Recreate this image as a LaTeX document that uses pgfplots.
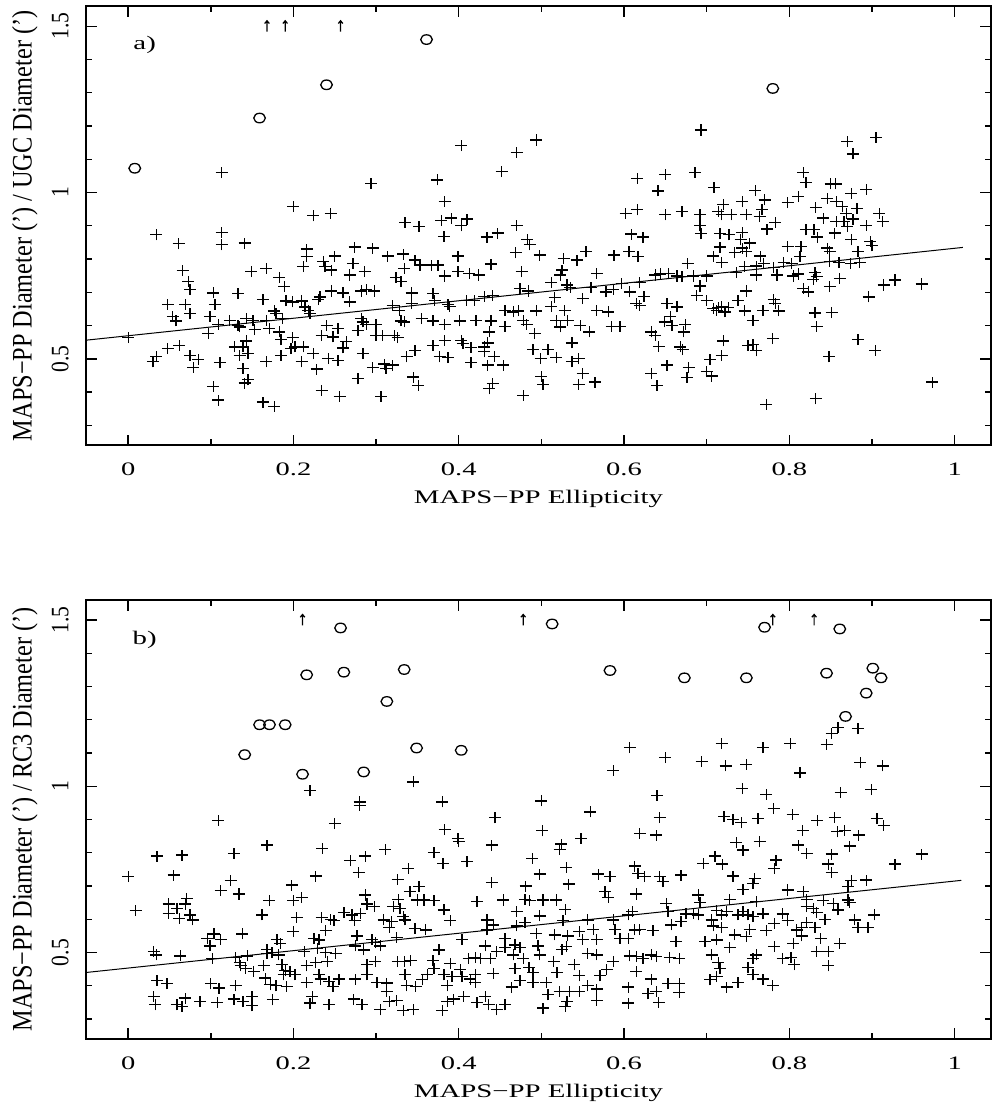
\documentclass[border=0pt]{standalone}
\usepackage{fontspec}
\setmainfont{Liberation Serif}
\usepackage{pgfplots}
\pgfplotsset{compat=1.18}

% plus sign, very slightly wider than tall
\pgfdeclareplotmark{wplus}{%
  \pgfpathmoveto{\pgfqpoint{-\pgfplotmarksize}{0pt}}%
  \pgfpathlineto{\pgfqpoint{\pgfplotmarksize}{0pt}}%
  \pgfpathmoveto{\pgfqpoint{0pt}{-0.92\pgfplotmarksize}}%
  \pgfpathlineto{\pgfqpoint{0pt}{0.92\pgfplotmarksize}}%
  \pgfusepathqstroke}
% open oval
\pgfdeclareplotmark{oval}{%
  \pgfpathellipse{\pgfpointorigin}{\pgfqpoint{\pgfplotmarksize}{0pt}}{\pgfqpoint{0pt}{0.82\pgfplotmarksize}}%
  \pgfusepathqstroke}
% upward arrow for lower limits off the top of the plot
\pgfdeclareplotmark{uparr}{%
  \pgfpathmoveto{\pgfqpoint{0pt}{-\pgfplotmarksize}}%
  \pgfpathlineto{\pgfqpoint{0pt}{\pgfplotmarksize}}%
  \pgfpathmoveto{\pgfqpoint{-0.42\pgfplotmarksize}{0.5\pgfplotmarksize}}%
  \pgfpathlineto{\pgfqpoint{0pt}{\pgfplotmarksize}}%
  \pgfpathlineto{\pgfqpoint{0.42\pgfplotmarksize}{0.5\pgfplotmarksize}}%
  \pgfusepathqstroke}

\pgfplotsset{
  panel/.style={
    scale only axis, width=452.5pt, height=219.5pt,
    xmin=-0.051, xmax=1.044, ymin=0.24, ymax=1.56,
    xtick={0,0.2,0.4,0.6,0.8,1}, minor xtick={0.1,0.3,0.5,0.7,0.9},
    ytick={0.5,1,1.5}, minor ytick={0.3,0.4,0.6,0.7,0.8,0.9,1.1,1.2,1.3,1.4},
    tick align=inside, tick pos=both,
    major tick length=5.3pt, minor tick length=3pt,
    tick style={black, line width=0.7pt},
    axis line style={line width=1pt},
    /pgf/number format/assume math mode=true,
    every axis x label/.style={at={(axis description cs:0.5,0)}, anchor=base,
      yshift=-29.2pt, xscale=1.5, font=\fontsize{9.6}{11}\selectfont},
    every axis y label/.style={at={(axis description cs:0,0.5)}, anchor=base,
      xshift=-27.2pt, xscale=1.32, rotate=90, xscale=1.135, font=\fontsize{10.7}{12}\selectfont},
    xticklabel style={anchor=base, yshift=-15.3pt, xscale=1.5, font=\fontsize{9.5}{11}\selectfont},
    yticklabel style={anchor=base, xshift=-8.85pt, xscale=1.32, rotate=90, xscale=1.135, font=\fontsize{9.5}{11}\selectfont},
    xlabel={MAPS−PP Ellipticity},
  },
  pts/.style={only marks, mark=wplus, mark size=3pt, mark options={line width=0.65pt, black}},
  ovals/.style={only marks, mark=oval, mark size=2.9pt, mark options={line width=0.65pt, black}},
  arrs/.style={only marks, mark=uparr, mark size=2.75pt, mark options={line width=0.6pt, black}},
  fit/.style={no marks, black, line width=0.5pt},
}

\begin{document}
\begin{tikzpicture}
\useasboundingbox (-43pt,-330.35pt) rectangle (452.5pt,222.65pt);

% ---------------- a) MAPS-PP vs UGC ----------------
\begin{axis}[panel, at={(0pt,0pt)}, ylabel={MAPS−PP Diameter (') / UGC Diameter (')}]
\addplot[pts] coordinates {
(0.066,0.765)(0.073,0.732)(0.075,0.709)(0.149,0.762)(0.167,0.772)(0.183,0.745)(0.189,0.717)
(0.048,0.664)(0.054,0.628)(0.058,0.614)(0.069,0.664)(0.075,0.636)(0.103,0.698)(0.105,0.664)(0.099,0.628)(0.109,0.604)(0.133,0.696)(0.097,0.576)(0.123,0.616)(0.133,0.601)(0.135,0.596)(0.143,0.621)(0.151,0.616)(0.153,0.588)(0.163,0.678)(0.167,0.616)(0.171,0.591)(0.177,0.644)(0.179,0.636)(0.183,0.581)(0.187,0.621)(0.191,0.674)(0.199,0.671)(0.210,0.674)(0.214,0.656)(0.218,0.646)(0.220,0.636)(0.230,0.678)(0.232,0.686)(0.246,0.704)(0.260,0.698)(0.268,0.671)(0.282,0.704)(0.288,0.709)(0.298,0.704)
(0.282,0.621)(0.284,0.611)(0.288,0.604)(0.300,0.604)(0.278,0.586)(0.240,0.601)(0.234,0.571)(0.248,0.566)(0.254,0.591)(0.264,0.553)(0.260,0.533)(0.300,0.571)(0.308,0.571)(0.322,0.571)(0.326,0.564)(0.320,0.661)(0.328,0.646)(0.330,0.614)(0.334,0.611)(0.343,0.666)(0.343,0.698)(0.369,0.696)(0.371,0.676)(0.387,0.664)(0.389,0.658)(0.409,0.676)(0.419,0.676)(0.431,0.688)(0.441,0.691)(0.355,0.621)(0.369,0.614)(0.383,0.604)(0.401,0.614)(0.421,0.616)(0.439,0.614)(0.437,0.581)
(0.000,0.564)(0.034,0.508)(0.030,0.491)(0.048,0.531)(0.062,0.541)(0.075,0.511)(0.085,0.498)(0.079,0.474)(0.111,0.488)(0.129,0.536)(0.139,0.536)(0.143,0.554)(0.145,0.516)(0.135,0.511)(0.139,0.471)(0.167,0.491)(0.185,0.558)(0.185,0.511)(0.199,0.564)(0.197,0.531)(0.202,0.536)(0.212,0.536)(0.210,0.491)(0.224,0.516)(0.228,0.469)(0.242,0.501)(0.254,0.496)(0.284,0.516)(0.296,0.474)(0.310,0.484)(0.312,0.471)(0.320,0.481)(0.337,0.506)(0.347,0.526)(0.369,0.541)(0.383,0.556)(0.377,0.506)(0.387,0.504)(0.403,0.556)(0.405,0.546)(0.415,0.534)(0.431,0.536)(0.431,0.521)(0.435,0.548)(0.443,0.508)(0.415,0.488)(0.435,0.481)
(0.141,0.427)(0.145,0.437)(0.103,0.417)(0.109,0.376)(0.163,0.370)(0.177,0.357)(0.234,0.405)(0.256,0.387)(0.278,0.440)(0.306,0.387)(0.345,0.445)(0.351,0.420)(0.437,0.410)(0.441,0.425)
(0.216,0.807)(0.212,0.777)(0.250,0.809)(0.236,0.792)(0.238,0.777)(0.246,0.767)(0.272,0.787)(0.268,0.752)(0.286,0.762)(0.314,0.809)(0.333,0.815)(0.347,0.797)(0.334,0.772)(0.324,0.745)(0.330,0.732)(0.353,0.782)(0.367,0.782)(0.375,0.782)(0.383,0.749)(0.399,0.809)(0.399,0.762)(0.413,0.757)(0.424,0.752)(0.439,0.785)
(0.113,1.060)(0.294,1.028)(0.200,0.958)(0.224,0.930)(0.245,0.938)(0.034,0.873)(0.061,0.846)(0.113,0.880)(0.113,0.843)(0.141,0.848)(0.216,0.830)(0.274,0.836)(0.296,0.833)
(0.693,1.188)(0.870,1.153)(0.877,1.116)(0.905,1.166)(0.403,1.141)(0.470,1.121)(0.494,1.158)(0.452,1.063)(0.374,1.038)(0.383,0.973)(0.335,0.910)(0.352,0.898)(0.379,0.916)(0.391,0.923)(0.403,0.900)(0.410,0.920)(0.382,0.868)(0.434,0.866)(0.447,0.878)(0.470,0.901)(0.483,0.858)(0.486,0.843)(0.616,1.043)(0.650,1.055)(0.686,1.061)(0.641,1.005)(0.709,1.016)(0.759,1.006)(0.770,0.978)(0.817,1.060)(0.820,1.030)(0.850,1.026)(0.856,1.026)(0.893,1.010)(0.875,0.998)(0.811,0.988)(0.798,0.970)(0.846,0.983)(0.857,0.973)(0.832,0.956)(0.864,0.958)(0.882,0.953)(0.869,0.938)(0.909,0.936)(0.913,0.913)(0.602,0.938)(0.616,0.948)(0.650,0.933)(0.670,0.943)(0.692,0.933)(0.692,0.900)(0.693,0.876)(0.714,0.943)(0.720,0.963)(0.718,0.933)(0.730,0.933)(0.743,0.973)(0.748,0.933)(0.764,0.928)(0.767,0.950)(0.783,0.910)(0.773,0.890)(0.841,0.923)(0.857,0.913)(0.866,0.913)(0.870,0.898)(0.877,0.920)(0.893,0.901)(0.820,0.888)(0.830,0.888)(0.834,0.866)(0.855,0.878)(0.875,0.858)(0.898,0.853)(0.900,0.840)(0.609,0.875)(0.623,0.866)(0.716,0.876)(0.727,0.873)(0.743,0.880)(0.741,0.858)(0.752,0.848)(0.743,0.833)(0.716,0.836)(0.798,0.838)(0.814,0.838)(0.846,0.833)
(0.469,0.819)(0.498,0.812)(0.527,0.802)(0.543,0.797)(0.554,0.822)(0.588,0.812)(0.606,0.822)(0.617,0.807)(0.677,0.787)(0.708,0.809)(0.718,0.789)(0.734,0.819)(0.748,0.822)(0.765,0.809)(0.769,0.787)(0.760,0.779)(0.746,0.777)(0.736,0.759)(0.760,0.752)(0.781,0.775)(0.793,0.789)(0.803,0.787)(0.813,0.807)(0.785,0.752)(0.805,0.749)(0.811,0.755)(0.831,0.759)(0.833,0.747)(0.829,0.739)(0.849,0.792)(0.860,0.789)(0.874,0.787)(0.885,0.789)(0.883,0.822)(0.849,0.822)(0.861,0.742)(0.849,0.717)(0.914,0.722)(0.928,0.737)(0.960,0.725)(0.896,0.686)(0.817,0.712)(0.823,0.701)(0.831,0.638)(0.851,0.639)(0.833,0.598)(0.883,0.558)(0.904,0.526)(0.848,0.506)(0.832,0.380)(0.772,0.363)(0.973,0.430)(0.781,0.678)(0.783,0.666)(0.787,0.644)(0.768,0.646)(0.756,0.616)(0.746,0.644)(0.738,0.676)(0.748,0.704)(0.780,0.561)(0.760,0.524)(0.756,0.544)(0.750,0.541)(0.720,0.554)(0.718,0.511)(0.704,0.498)(0.700,0.461)(0.706,0.448)(0.678,0.474)(0.676,0.444)(0.652,0.481)(0.633,0.455)(0.640,0.420)(0.671,0.528)(0.668,0.536)(0.642,0.538)(0.633,0.581)(0.638,0.571)(0.656,0.628)(0.649,0.611)(0.658,0.601)(0.674,0.604)(0.672,0.581)(0.652,0.666)(0.664,0.656)(0.688,0.691)(0.692,0.719)(0.700,0.676)(0.708,0.651)(0.714,0.654)(0.712,0.646)(0.718,0.656)(0.726,0.654)(0.722,0.641)(0.700,0.749)(0.684,0.749)(0.670,0.747)(0.664,0.749)(0.654,0.757)(0.644,0.755)(0.638,0.752)(0.624,0.688)(0.619,0.661)(0.615,0.666)(0.619,0.729)(0.607,0.701)(0.597,0.727)(0.587,0.709)(0.578,0.701)(0.567,0.757)(0.560,0.715)(0.550,0.681)(0.535,0.715)(0.531,0.722)(0.523,0.752)(0.525,0.767)(0.512,0.729)(0.516,0.684)(0.512,0.658)(0.528,0.646)(0.518,0.616)(0.523,0.596)(0.532,0.616)(0.547,0.601)(0.558,0.581)(0.537,0.548)(0.545,0.501)(0.537,0.491)(0.550,0.455)(0.545,0.423)(0.565,0.430)(0.567,0.646)(0.581,0.641)(0.585,0.598)(0.595,0.598)(0.502,0.423)(0.500,0.447)(0.499,0.501)(0.508,0.528)(0.490,0.528)(0.518,0.504)(0.478,0.390)(0.454,0.481)(0.492,0.576)(0.482,0.604)(0.478,0.616)(0.472,0.644)(0.466,0.641)(0.456,0.646)(0.456,0.598)(0.494,0.644)(0.476,0.762)(0.474,0.711)(0.484,0.704)
};
\addplot[ovals] coordinates {(0.008,1.073)(0.159,1.224)(0.240,1.324)(0.361,1.460)(0.780,1.313)};
\addplot[arrs] coordinates {(0.168,1.50)(0.190,1.50)(0.257,1.50)};
\addplot[fit] coordinates {(-0.051,0.556)(1.01,0.835)};
\node[font=\fontsize{9.6}{11}\selectfont, xscale=1.5] at (axis cs:0.02,1.445) {a)};
\end{axis}

% ---------------- b) MAPS-PP vs RC3 ----------------
\begin{axis}[panel, at={(0pt,-296.85pt)}, ylabel={MAPS−PP Diameter (') / RC3 Diameter (')}]
\addplot[pts] coordinates {
(0.220,0.988)(0.345,1.013)(0.280,0.953)(0.280,0.943)(0.380,0.953)(0.109,0.898)(0.250,0.888)(0.383,0.870)(0.444,0.905)(0.399,0.843)
(0.859,1.176)(0.851,1.158)(0.883,1.173)(0.845,1.126)(0.801,1.128)(0.768,1.116)(0.718,1.128)(0.607,1.116)(0.587,1.048)(0.650,1.086)(0.694,1.075)(0.723,1.061)(0.748,1.066)(0.813,1.040)(0.886,1.071)(0.913,1.061)(0.500,0.956)(0.559,0.923)(0.640,0.973)(0.643,0.906)(0.743,0.993)(0.772,0.976)(0.781,0.933)(0.804,0.916)(0.862,0.981)(0.899,0.990)(0.721,0.910)(0.732,0.900)(0.742,0.890)(0.762,0.903)(0.834,0.898)(0.855,0.906)(0.906,0.903)(0.914,0.883)(0.501,0.866)(0.548,0.843)(0.619,0.858)(0.639,0.853)(0.816,0.868)(0.858,0.863)(0.867,0.868)(0.884,0.853)
(0.000,0.728)(0.009,0.626)(0.035,0.790)(0.065,0.793)(0.128,0.798)(0.168,0.823)(0.235,0.813)(0.055,0.733)(0.124,0.716)(0.112,0.686)(0.134,0.676)(0.171,0.656)(0.198,0.703)(0.200,0.656)(0.210,0.666)(0.227,0.730)(0.269,0.776)(0.287,0.790)(0.279,0.740)(0.311,0.810)(0.339,0.753)(0.326,0.720)(0.341,0.683)(0.352,0.698)(0.370,0.800)(0.381,0.768)(0.410,0.773)(0.400,0.833)(0.440,0.823)(0.440,0.710)(0.422,0.653)
(0.049,0.646)(0.059,0.633)(0.069,0.646)(0.071,0.663)(0.049,0.618)(0.062,0.603)(0.075,0.613)(0.078,0.598)(0.096,0.543)(0.104,0.556)(0.099,0.520)(0.112,0.540)(0.138,0.556)(0.162,0.613)(0.200,0.563)(0.204,0.606)(0.180,0.540)(0.184,0.528)(0.168,0.510)(0.168,0.498)(0.174,0.500)(0.182,0.493)(0.225,0.543)(0.231,0.538)(0.239,0.566)(0.234,0.606)(0.245,0.600)(0.249,0.596)(0.261,0.620)(0.271,0.613)(0.274,0.596)(0.281,0.618)(0.287,0.673)(0.289,0.646)(0.298,0.638)(0.309,0.598)(0.316,0.576)(0.319,0.593)(0.321,0.638)(0.327,0.660)(0.329,0.633)(0.333,0.608)(0.335,0.598)(0.325,0.546)(0.347,0.573)(0.360,0.568)(0.350,0.658)(0.358,0.658)(0.370,0.656)(0.382,0.628)(0.390,0.596)(0.404,0.540)(0.434,0.598)(0.442,0.583)(0.434,0.568)(0.432,0.520)(0.446,0.503)(0.277,0.550)(0.275,0.520)(0.285,0.508)(0.295,0.540)(0.299,0.530)(0.305,0.520)(0.251,0.498)(0.239,0.500)(0.229,0.513)(0.213,0.503)(0.130,0.486)(0.144,0.490)(0.102,0.483)(0.063,0.490)(0.031,0.503)(0.034,0.493)
(0.035,0.416)(0.047,0.406)(0.100,0.406)(0.110,0.393)(0.130,0.400)(0.135,0.470)(0.136,0.460)(0.142,0.453)(0.152,0.443)(0.164,0.460)(0.166,0.423)(0.172,0.403)(0.179,0.400)(0.192,0.398)(0.188,0.433)(0.190,0.446)(0.196,0.443)(0.202,0.433)(0.186,0.463)(0.216,0.460)(0.227,0.470)(0.241,0.473)(0.231,0.433)(0.233,0.420)(0.216,0.410)(0.243,0.413)(0.248,0.398)(0.255,0.420)(0.275,0.420)(0.289,0.463)(0.289,0.433)(0.299,0.473)(0.301,0.410)(0.313,0.408)(0.313,0.383)(0.326,0.473)(0.334,0.473)(0.342,0.476)(0.335,0.433)(0.337,0.400)(0.348,0.398)(0.356,0.418)(0.362,0.433)(0.369,0.476)(0.370,0.453)(0.376,0.508)(0.382,0.433)(0.386,0.400)(0.392,0.428)(0.390,0.466)(0.402,0.448)(0.404,0.428)(0.412,0.483)(0.420,0.486)(0.426,0.483)(0.420,0.433)(0.414,0.420)(0.420,0.410)(0.438,0.483)(0.442,0.438)(0.432,0.368)
(0.031,0.368)(0.033,0.343)(0.059,0.343)(0.065,0.338)(0.069,0.363)(0.087,0.353)(0.108,0.350)(0.128,0.360)(0.139,0.353)(0.150,0.368)(0.150,0.340)(0.175,0.358)(0.223,0.368)(0.220,0.348)(0.243,0.343)(0.273,0.360)(0.283,0.343)(0.305,0.328)(0.316,0.353)(0.325,0.356)(0.333,0.326)(0.345,0.328)(0.380,0.326)(0.386,0.353)(0.394,0.360)(0.406,0.368)(0.422,0.350)(0.436,0.343)(0.446,0.328)
(0.524,0.826)(0.522,0.810)(0.489,0.783)(0.498,0.736)(0.530,0.756)(0.533,0.706)(0.481,0.700)(0.454,0.658)(0.480,0.660)(0.486,0.656)(0.502,0.658)(0.518,0.658)(0.529,0.630)(0.470,0.623)(0.498,0.610)(0.470,0.580)(0.480,0.590)(0.494,0.558)(0.526,0.596)(0.516,0.553)(0.532,0.550)(0.546,0.563)(0.556,0.598)(0.563,0.570)(0.550,0.540)(0.567,0.540)(0.456,0.543)(0.456,0.516)(0.468,0.523)(0.474,0.516)(0.478,0.483)(0.466,0.493)(0.496,0.520)(0.498,0.493)(0.515,0.473)(0.525,0.510)(0.530,0.518)(0.519,0.440)(0.540,0.463)(0.546,0.430)(0.468,0.453)(0.485,0.456)(0.490,0.440)(0.474,0.416)(0.490,0.410)(0.506,0.410)(0.464,0.396)(0.508,0.373)(0.502,0.333)(0.522,0.383)(0.534,0.383)(0.531,0.353)(0.529,0.338)(0.546,0.383)(0.556,0.400)(0.567,0.390)(0.567,0.356)(0.571,0.430)(0.579,0.448)(0.587,0.473)(0.556,0.498)(0.567,0.493)(0.456,0.343)
(0.569,0.736)(0.583,0.728)(0.577,0.683)(0.581,0.666)(0.613,0.760)(0.617,0.738)(0.625,0.728)(0.643,0.728)(0.647,0.713)(0.669,0.733)(0.615,0.676)(0.587,0.598)(0.589,0.570)(0.605,0.613)(0.610,0.623)(0.595,0.543)(0.605,0.543)(0.613,0.568)(0.619,0.570)(0.635,0.566)(0.615,0.488)(0.607,0.490)(0.623,0.483)(0.633,0.493)(0.639,0.488)(0.655,0.486)(0.667,0.483)(0.663,0.533)(0.651,0.648)(0.653,0.623)(0.657,0.583)(0.669,0.593)(0.675,0.616)(0.684,0.618)(0.690,0.613)(0.692,0.650)(0.690,0.673)(0.696,0.768)(0.710,0.790)(0.719,0.766)(0.706,0.598)(0.712,0.626)(0.718,0.613)(0.724,0.623)(0.708,0.580)(0.718,0.576)(0.728,0.660)(0.698,0.533)(0.712,0.538)(0.728,0.516)(0.706,0.493)(0.714,0.470)(0.716,0.453)(0.704,0.418)(0.712,0.428)(0.724,0.396)(0.738,0.410)(0.667,0.406)(0.667,0.380)(0.653,0.406)(0.642,0.350)(0.639,0.383)(0.629,0.376)(0.633,0.420)(0.605,0.396)(0.605,0.348)(0.615,0.443)
(0.732,0.730)(0.744,0.690)(0.758,0.723)(0.756,0.708)(0.738,0.613)(0.744,0.623)(0.750,0.613)(0.756,0.608)(0.768,0.616)(0.760,0.653)(0.734,0.553)(0.748,0.548)(0.752,0.570)(0.772,0.566)(0.782,0.588)(0.792,0.616)(0.798,0.596)(0.782,0.518)(0.760,0.493)(0.756,0.483)(0.750,0.456)(0.756,0.433)(0.768,0.420)(0.780,0.400)(0.792,0.483)(0.802,0.486)(0.806,0.463)(0.805,0.528)(0.815,0.550)(0.815,0.576)(0.809,0.568)(0.821,0.590)(0.831,0.576)(0.838,0.543)(0.843,0.600)(0.833,0.503)(0.847,0.503)(0.861,0.528)(0.847,0.460)(0.784,0.778)(0.782,0.753)(0.798,0.688)(0.817,0.683)(0.811,0.823)(0.821,0.798)(0.851,0.796)(0.873,0.820)(0.847,0.766)(0.851,0.740)(0.928,0.766)(0.960,0.796)(0.871,0.698)(0.875,0.716)(0.893,0.718)(0.873,0.650)(0.871,0.658)(0.841,0.656)(0.853,0.648)(0.859,0.628)(0.821,0.660)(0.821,0.638)(0.829,0.633)(0.833,0.620)(0.879,0.598)(0.883,0.576)(0.895,0.576)(0.903,0.613)(0.736,0.830)(0.744,0.808)(0.764,0.833)
};
\addplot[ovals] coordinates {(0.257,1.476)(0.216,1.335)(0.261,1.343)(0.334,1.351)(0.313,1.255)(0.159,1.185)(0.171,1.185)(0.190,1.185)(0.141,1.095)(0.349,1.115)(0.403,1.108)(0.211,1.036)(0.285,1.043)(0.513,1.488)(0.770,1.478)(0.861,1.473)(0.583,1.348)(0.673,1.326)(0.748,1.326)(0.845,1.340)(0.901,1.355)(0.911,1.326)(0.893,1.280)(0.868,1.210)};
\addplot[arrs] coordinates {(0.211,1.50)(0.478,1.50)(0.780,1.50)(0.830,1.50)};
\addplot[fit] coordinates {(-0.051,0.440)(1.008,0.717)};
\node[font=\fontsize{9.6}{11}\selectfont, xscale=1.5] at (axis cs:0.02,1.44) {b)};
\end{axis}
\end{tikzpicture}
\end{document}
